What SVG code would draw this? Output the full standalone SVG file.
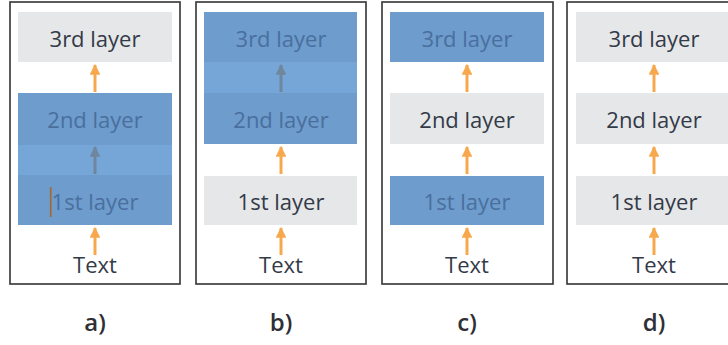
<svg xmlns="http://www.w3.org/2000/svg" width="728" height="345" viewBox="0 0 728 345">
<defs>
<style>
.frame{fill:#fff;stroke:#333;stroke-width:1.6}
.gray{fill:#e6e7e8}
.blue{fill:#6d9ccd}
.band{fill:#76a6d7}
.t{font-family:"Open Sans","Liberation Sans",sans-serif;font-size:22px;text-anchor:middle;fill:#333a48}
.tb{font-family:"Open Sans","Liberation Sans",sans-serif;font-size:22px;text-anchor:middle;fill:#4a6f9d}
.lab{font-family:"Open Sans","Liberation Sans",sans-serif;font-size:24px;font-weight:600;text-anchor:middle;fill:#2f2f35}
.oa{stroke:#f8a84c;stroke-width:3;fill:none}
.ga{stroke:#6f869c;stroke-width:3;fill:none}
</style>
<marker id="ho" viewBox="0 0 10 10" refX="9" refY="5" markerWidth="3.6" markerHeight="3.6" markerUnits="strokeWidth" orient="auto"><path d="M0,0 L10,5 L0,10 z" fill="#f8a84c"/></marker>
<marker id="hg" viewBox="0 0 10 10" refX="9" refY="5" markerWidth="3.6" markerHeight="3.6" markerUnits="strokeWidth" orient="auto"><path d="M0,0 L10,5 L0,10 z" fill="#6f869c"/></marker>
</defs>
<rect width="728" height="345" fill="#fff"/>

<!-- Panel a -->
<g id="panel-a">
<rect class="frame" x="10" y="2" width="170" height="282"/>
<g id="a-l3"><rect class="gray" x="18" y="12" width="154" height="50"/><text class="t" x="95" y="47">3rd layer</text></g>
<g id="a-block"><rect class="blue" x="18" y="93" width="154" height="132"/><rect class="band" x="18" y="145" width="154" height="30"/></g>
<g id="a-l2"><text class="tb" x="95" y="128">2nd layer</text></g>
<g id="a-l1"><text class="tb" x="95" y="210">1st layer</text><line x1="50.7" y1="187" x2="50.7" y2="217" stroke="#a8672c" stroke-width="1.6"/></g>
<g id="a-text"><text class="t" x="95" y="273">Text</text></g>
<text class="lab" x="95" y="331">a)</text>
</g>

<!-- Panel b -->
<g id="panel-b">
<rect class="frame" x="196" y="2" width="170" height="282"/>
<g id="b-block"><rect class="blue" x="204" y="12" width="153" height="132"/><rect class="band" x="204" y="62" width="153" height="31"/></g>
<g id="b-l3"><text class="tb" x="281" y="47">3rd layer</text></g>
<g id="b-l2"><text class="tb" x="281" y="128">2nd layer</text></g>
<g id="b-l1"><rect class="gray" x="204" y="176" width="153" height="49"/><text class="t" x="281" y="210">1st layer</text></g>
<g id="b-text"><text class="t" x="281" y="273">Text</text></g>
<text class="lab" x="281" y="331">b)</text>
</g>

<!-- Panel c -->
<g id="panel-c">
<rect class="frame" x="382" y="2" width="171" height="282"/>
<g id="c-l3"><rect class="blue" x="390" y="12" width="154" height="50"/><text class="tb" x="467" y="47">3rd layer</text></g>
<g id="c-l2"><rect class="gray" x="390" y="93" width="154" height="51"/><text class="t" x="467" y="128">2nd layer</text></g>
<g id="c-l1"><rect class="blue" x="390" y="176" width="154" height="49"/><text class="tb" x="467" y="210">1st layer</text></g>
<g id="c-text"><text class="t" x="467" y="273">Text</text></g>
<text class="lab" x="467" y="331">c)</text>
</g>

<!-- Panel d -->
<g id="panel-d">
<rect class="frame" x="567" y="2" width="172" height="282"/>
<g id="d-l3"><rect class="gray" x="576" y="12" width="155" height="50"/><text class="t" x="654" y="47">3rd layer</text></g>
<g id="d-l2"><rect class="gray" x="576" y="93" width="155" height="51"/><text class="t" x="654" y="128">2nd layer</text></g>
<g id="d-l1"><rect class="gray" x="576" y="176" width="155" height="49"/><text class="t" x="654" y="210">1st layer</text></g>
<g id="d-text"><text class="t" x="654" y="273">Text</text></g>
<text class="lab" x="654" y="331">d)</text>
</g>

<g id="connectors">
<line class="oa" x1="95" y1="92" x2="95" y2="65" marker-end="url(#ho)"/>
<line class="ga" x1="95" y1="174" x2="95" y2="147" marker-end="url(#hg)"/>
<line class="oa" x1="95" y1="255" x2="95" y2="228" marker-end="url(#ho)"/>

<line class="ga" x1="281" y1="92" x2="281" y2="65" marker-end="url(#hg)"/>
<line class="oa" x1="281" y1="174" x2="281" y2="147" marker-end="url(#ho)"/>
<line class="oa" x1="281" y1="255" x2="281" y2="228" marker-end="url(#ho)"/>

<line class="oa" x1="467" y1="92" x2="467" y2="65" marker-end="url(#ho)"/>
<line class="oa" x1="467" y1="174" x2="467" y2="147" marker-end="url(#ho)"/>
<line class="oa" x1="467" y1="255" x2="467" y2="228" marker-end="url(#ho)"/>

<line class="oa" x1="654" y1="92" x2="654" y2="65" marker-end="url(#ho)"/>
<line class="oa" x1="654" y1="174" x2="654" y2="147" marker-end="url(#ho)"/>
<line class="oa" x1="654" y1="255" x2="654" y2="228" marker-end="url(#ho)"/>
</g>
</svg>
